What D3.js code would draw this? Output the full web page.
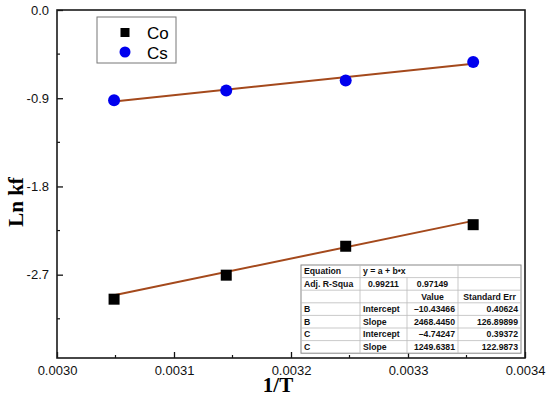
<!DOCTYPE html>
<meta charset="utf-8">
<style>
	body { margin: 0; background: #fff; }
	svg { display: block; }
	.tick text { font-family: "Liberation Sans", Arial, sans-serif; font-size: 13px; fill: #111; }
	.axTitle { font-family: "Liberation Serif", "Times New Roman", serif; font-weight: bold; font-size: 21px; fill: #000; }
	.tbl text { font-family: "Liberation Sans", Arial, sans-serif; font-weight: bold; font-size: 8.7px; fill: #111; }
</style>
<body>
<svg></svg>
</body>
<script src="https://cdnjs.cloudflare.com/ajax/libs/d3/7.8.5/d3.min.js"></script>
<script>
	// 1/T for 328, 318, 308, 298 K
	var invT = [1/328, 1/318, 1/308, 1/298];
	var coVals = [-2.95, -2.705, -2.41, -2.19];
	var csVals = [-0.92, -0.82, -0.72, -0.53];

	// fit params (intercept, slope) from the table
	var coFit = [-10.43466, 2468.4450];
	var csFit = [-4.74247, 1249.6381];

	var xTicks = [0.0030, 0.0031, 0.0032, 0.0033, 0.0034];
	var yTicks = [0.0, -0.9, -1.8, -2.7];

	var tblRows = [
		["Equation", "y = a + b\u2022x", "", ""],
		["Adj. R-Squa", "0.99211", "0.97149", ""],
		["", "", "Value", "Standard Err"],
		["B", "Intercept", "\u201310.43466", "0.40624"],
		["B", "Slope", "2468.4450", "126.89899"],
		["C", "Intercept", "\u20134.74247", "0.39372"],
		["C", "Slope", "1249.6381", "122.9873"]
	];

	var W = 550, H = 398;
	var pL = 57, pR = 525, pT = 10, pB = 358;

	var svg = d3.select("svg").attr("width", W).attr("height", H);

	var x = d3.scaleLinear().domain([0.0030, 0.0034]).range([pL, pR]);
	var y = d3.scaleLinear().domain([-3.55, 0]).range([pB, pT]);

	// minor ticks
	var xMinor = [0.00305, 0.00315, 0.00325, 0.00335];
	var yMinor = [-0.45, -1.35, -2.25, -3.15];

	var gx = svg.append("g").attr("transform", "translate(0," + pB + ")")
		.call(d3.axisBottom(x).tickValues(xTicks).tickFormat(d3.format(".4f")).tickSizeInner(-6).tickSizeOuter(0).tickPadding(8));
	gx.select(".domain").remove();
	gx.selectAll(".tick line").attr("stroke", "#111").attr("stroke-width", 1.3);

	var yFmt = function(d) { return d3.format(".1f")(d).replace("\u2212", "-"); };
	var gy = svg.append("g").attr("transform", "translate(" + pL + ",0)")
		.call(d3.axisLeft(y).tickValues(yTicks).tickFormat(yFmt).tickSizeInner(-6).tickSizeOuter(0).tickPadding(8));
	gy.select(".domain").remove();
	gy.selectAll(".tick line").attr("stroke", "#111").attr("stroke-width", 1.3);

	svg.append("g").selectAll("line").data(xMinor).enter().append("line")
		.attr("x1", function(d) { return x(d); }).attr("x2", function(d) { return x(d); })
		.attr("y1", pB).attr("y2", pB - 3)
		.attr("stroke", "#111").attr("stroke-width", 1.2);
	svg.append("g").selectAll("line").data(yMinor).enter().append("line")
		.attr("y1", function(d) { return y(d); }).attr("y2", function(d) { return y(d); })
		.attr("x1", pL).attr("x2", pL + 3)
		.attr("stroke", "#111").attr("stroke-width", 1.2);

	// frame
	svg.append("rect").attr("x", pL).attr("y", pT)
		.attr("width", pR - pL).attr("height", pB - pT)
		.attr("fill", "none").attr("stroke", "#1a1a1a").attr("stroke-width", 1.6);

	// fit lines
	var lineCol = "#a4491c";
	[coFit, csFit].forEach(function(f) {
		var x0 = invT[0], x1 = invT[invT.length - 1];
		svg.append("line")
			.attr("x1", x(x0)).attr("y1", y(f[0] + f[1] * x0))
			.attr("x2", x(x1)).attr("y2", y(f[0] + f[1] * x1))
			.attr("stroke", lineCol).attr("stroke-width", 2);
	});

	// markers
	var coPts = invT.map(function(d, i) { return [d, coVals[i]]; });
	var csPts = invT.map(function(d, i) { return [d, csVals[i]]; });

	svg.append("g").selectAll("rect").data(coPts).enter().append("rect")
		.attr("x", function(d) { return x(d[0]) - 5.5; })
		.attr("y", function(d) { return y(d[1]) - 5.5; })
		.attr("width", 11).attr("height", 11)
		.attr("fill", "#000");
	svg.append("g").selectAll("circle").data(csPts).enter().append("circle")
		.attr("cx", function(d) { return x(d[0]); })
		.attr("cy", function(d) { return y(d[1]); })
		.attr("r", 6)
		.attr("fill", "#0000ee");

	// legend
	var leg = svg.append("g");
	leg.append("rect").attr("x", 97).attr("y", 17).attr("width", 79).attr("height", 46)
		.attr("fill", "#fff").attr("stroke", "#777").attr("stroke-width", 1);
	leg.append("rect").attr("x", 120.5).attr("y", 28).attr("width", 9).attr("height", 9).attr("fill", "#000");
	leg.append("circle").attr("cx", 125).attr("cy", 52).attr("r", 5.5).attr("fill", "#0000ee");
	leg.append("text").attr("x", 147).attr("y", 38.5).text("Co")
		.style("font-family", "Liberation Sans, Arial, sans-serif").style("font-size", "17px");
	leg.append("text").attr("x", 147).attr("y", 58.5).text("Cs")
		.style("font-family", "Liberation Sans, Arial, sans-serif").style("font-size", "17px");

	// table
	var colX = [301, 360, 407, 458, 521];
	var tTop = 265, rowH = 12.6;
	var tbl = svg.append("g").attr("class", "tbl");
	tbl.append("rect").attr("x", colX[0]).attr("y", tTop)
		.attr("width", colX[4] - colX[0]).attr("height", rowH * tblRows.length)
		.attr("fill", "#fff").attr("stroke", "#888").attr("stroke-width", 1);
	d3.range(1, tblRows.length).forEach(function(i) {
		tbl.append("line").attr("x1", colX[0]).attr("x2", colX[4])
			.attr("y1", tTop + i * rowH).attr("y2", tTop + i * rowH)
			.attr("stroke", "#bbb").attr("stroke-width", 0.8);
	});
	[1, 2, 3].forEach(function(c) {
		tbl.append("line").attr("x1", colX[c]).attr("x2", colX[c])
			.attr("y1", c === 2 ? tTop + rowH : tTop).attr("y2", tTop + rowH * tblRows.length)
			.attr("stroke", "#bbb").attr("stroke-width", 0.8);
	});
	tblRows.forEach(function(row, r) {
		var ty = tTop + r * rowH + rowH - 3.3;
		row.forEach(function(s, c) {
			if (!s) return;
			var t = tbl.append("text").attr("y", ty).text(s);
			if (c === 0 || c === 1 && (r === 0 || r > 2)) {
				t.attr("x", colX[c] + 3);
			} else if (r === 1 || r === 2) {
				t.attr("x", (colX[c] + colX[c + 1]) / 2).attr("text-anchor", "middle");
			} else {
				t.attr("x", colX[c + 1] - 3).attr("text-anchor", "end");
			}
		});
	});

	// axis titles
	svg.append("text").attr("class", "axTitle")
		.attr("transform", "translate(23,202) rotate(-90)")
		.attr("text-anchor", "middle").text("Ln kf");
	svg.append("text").attr("class", "axTitle")
		.attr("x", 278).attr("y", 392).attr("text-anchor", "middle").text("1/T");
</script>
